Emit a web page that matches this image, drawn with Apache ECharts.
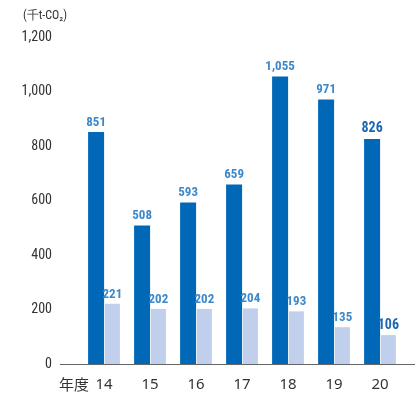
<!DOCTYPE html>
<html>
<head>
<meta charset="utf-8">
<script src="https://cdn.jsdelivr.net/npm/echarts@6/dist/echarts.min.js"></script>
<style>
  html, body { margin: 0; padding: 0; background: #fff; }
  #chart { width: 417px; height: 394px; }
</style>
</head>
<body>
<div id="chart"></div>
<script>
// Fiscal years (last two digits) and emissions in thousand t-CO2
const years = ['14', '15', '16', '17', '18', '19', '20'];
const seriesA = [851, 508, 593, 659, 1055, 971, 826];
const seriesB = [221, 202, 202, 204, 193, 135, 106];
const yTicks = [0, 200, 400, 600, 800, 1000, 1200];
const unitLabel = '(千t-CO₂)';
const yearPrefix = '年度';

const FONT = '"Liberation Sans Narrow", "Roboto Condensed", "Liberation Sans", Arial, sans-serif';
const labelBlue = '#3c88cc';
const latestBlue = '#1c66b2';
const lastIdx = years.length - 1;
const fmt = v => Number(v).toLocaleString('en-US');

function withLabels(values) {
  return values.map((v, i) => i === lastIdx
    ? { value: v, label: { color: latestBlue, fontSize: 14 } }
    : v);
}

const valueLabel = {
  show: true, position: 'top', distance: 3,
  color: labelBlue, fontSize: 13, fontWeight: 'bold', fontFamily: FONT,
  formatter: p => fmt(p.value)
};

const chart = echarts.init(document.getElementById('chart'), null, { renderer: 'canvas' });
chart.setOption({
  animation: false,
  grid: { left: 81, right: 14, top: 37, bottom: 30 },
  xAxis: {
    type: 'category',
    data: years,
    axisLine: { show: false },
    axisTick: { show: false },
    axisLabel: { color: '#333', fontSize: 15, fontFamily: '"Noto Sans", sans-serif', margin: 13 }
  },
  yAxis: {
    type: 'value',
    min: yTicks[0],
    max: yTicks[yTicks.length - 1],
    interval: 200,
    splitLine: { show: false },
    axisLine: { show: false },
    axisTick: { show: false },
    axisLabel: {
      color: '#333', fontSize: 14, fontFamily: FONT, margin: 29,
      formatter: fmt
    }
  },
  series: [
    {
      type: 'bar',
      data: withLabels(seriesA),
      barWidth: 16,
      barGap: '5%',
      itemStyle: { color: '#0068b7' },
      label: valueLabel
    },
    {
      type: 'bar',
      data: withLabels(seriesB),
      barWidth: 15,
      itemStyle: { color: '#bfcfec' },
      label: valueLabel
    }
  ],
  graphic: [
    {
      type: 'line',
      shape: { x1: 60, y1: 364.5, x2: 415, y2: 364.5 },
      style: { stroke: '#666', lineWidth: 1 }
    },
    {
      type: 'text',
      left: 23, top: 10,
      style: { text: unitLabel, fill: '#333', font: '12px ' + FONT }
    },
    {
      type: 'text',
      left: 59, top: 377,
      style: { text: yearPrefix, fill: '#333', font: '15px "Noto Sans CJK JP", sans-serif' }
    }
  ]
});
</script>
</body>
</html>
